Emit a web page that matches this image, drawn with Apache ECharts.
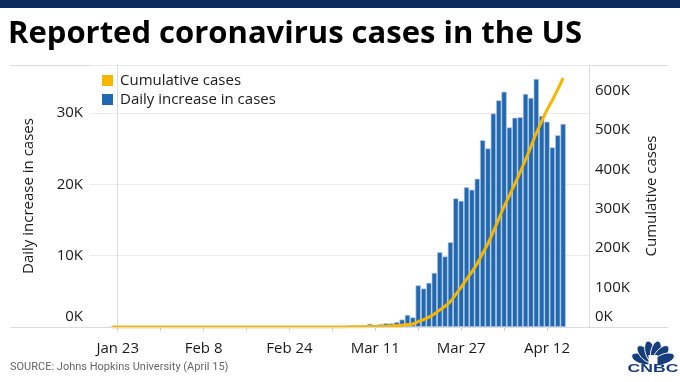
<!DOCTYPE html>
<html><head><meta charset="utf-8">
<script src="https://cdn.jsdelivr.net/npm/echarts@6/dist/echarts.min.js"></script>
<style>html,body{margin:0;padding:0;background:#fff}#c{width:680px;height:382px}</style>
</head><body><div id="c"></div>
<script>
// ---- data ----
const startDate = '2020-01-22';
const dailyCases = [
  1,0,1,0,3,0,0,0,0,2,
  1,0,3,0,1,0,0,0,0,0,1,0,1,0,0,0,0,0,0,0,20,0,0,0,0,0,1,27,6,
  7,25,24,34,63,98,116,106,163,
  450,300,420,520,520,700,1050,1700,1350,5850,5400,6200,7600,10500,9900,11900,18050,17700,19600,19250,20800,26200,
  25050,29950,31800,33000,28000,29350,29450,32700,32150,34800,29600,28800,25200,26900,28500
];
const cumulativeCases = [
  1,1,2,2,5,5,5,5,5,7,
  8,8,11,11,12,12,12,12,12,12,13,13,14,14,14,14,14,14,14,14,34,34,34,34,34,34,35,62,68,
  75,100,124,158,221,319,435,541,704,
  1000,1300,1700,2200,2800,3600,4600,6300,7700,13500,18900,25000,33000,43000,53000,65000,83000,101000,121000,140000,161000,187000,
  212000,242000,274000,306000,334000,363000,393000,425000,458000,492000,522000,551000,576000,603000,632000
];
const xLabelDates = ['2020-01-23','2020-02-08','2020-02-24','2020-03-11','2020-03-27','2020-04-12'];
const xLabelTexts = ['Jan 23','Feb 8','Feb 24','Mar 11','Mar 27','Apr 12'];
const xTickDates = ['2020-01-23','2020-01-31','2020-02-08','2020-02-16','2020-02-24','2020-03-03','2020-03-11','2020-03-19','2020-03-27','2020-04-04','2020-04-12'];
const leftTickLabels = ['0K','10K','20K','30K'];
const rightTickLabels = ['0K','100K','200K','300K','400K','500K','600K'];
const seriesNames = ['Cumulative cases','Daily increase in cases'];

// ---- helpers ----
const DAY = 86400000;
const base = Date.parse('2020-01-23T00:00:00Z');
const dayOf = s => Math.round((Date.parse(s + 'T00:00:00Z') - base) / DAY);
const start = dayOf(startDate);
const dailyPairs = dailyCases.map((v, i) => [start + i, v]);
const cumPairs = cumulativeCases.map((v, i) => [start + i, v]);
const labelDays = xLabelDates.map(dayOf);
const tickDays = xTickDates.map(dayOf);

const FONT = '"Open Sans", Lato, sans-serif';
const TXT = '#1a1a1a';
const YEL = '#f7b600';
const BLU = '#1e69b2';

const chart = echarts.init(document.getElementById('c'), null, {renderer: 'canvas'});

function leftFmt(v) {
  if (v % 10000 !== 0) return '';
  const t = leftTickLabels[v / 10000];
  return v === 0 ? '{z|' + t + '}' : t;
}
function rightFmt(v) {
  if (v % 100000 !== 0) return '';
  const t = rightTickLabels[v / 100000];
  return v === 0 ? '{z|' + t + '}' : t;
}

const navy = '#0b2b5f';
const logoNavy = '#163d7c';
const feathers = [-70, -42, -14, 14, 42, 70].map(a => {
  const r = a * Math.PI / 180;
  const cx = 653 + 12 * Math.sin(r), cy = 363 - 12 * Math.cos(r);
  return {
    type: 'ellipse',
    shape: {cx: cx, cy: cy, rx: 5, ry: 10.5},
    originX: cx, originY: cy,
    rotation: -r,
    style: {fill: logoNavy, stroke: '#fff', lineWidth: 0.9},
    silent: true
  };
});

chart.setOption({
  animation: false,
  textStyle: {fontFamily: FONT},
  title: {
    text: 'Reported coronavirus cases in the US',
    left: 8, top: 19, padding: 0,
    textStyle: {fontSize: 31, fontWeight: 'bold', color: '#000', fontFamily: FONT}
  },
  legend: {
    left: 102, top: 73, orient: 'vertical', padding: 0,
    itemWidth: 11, itemHeight: 11, itemGap: 4,
    textStyle: {fontSize: 15, color: TXT, padding: [0, 0, 0, 2]},
    data: [
      {name: seriesNames[0], icon: 'rect', itemStyle: {color: YEL, borderWidth: 0}},
      {name: seriesNames[1], icon: 'rect', itemStyle: {color: BLU, borderWidth: 0}}
    ]
  },
  grid: {left: 90, right: 91, top: 65, bottom: 55, outerBoundsMode: 'none'},
  xAxis: {
    type: 'value', min: -5.16, max: 87.82,
    axisLine: {show: false},
    axisTick: {show: true, customValues: tickDays, length: 4, lineStyle: {color: '#cfcfcf'}},
    axisLabel: {
      customValues: labelDays, fontSize: 15, color: TXT, margin: 14,
      formatter: v => { const k = labelDays.indexOf(Math.round(v)); return k >= 0 ? xLabelTexts[k] : ''; }
    },
    splitLine: {show: false}
  },
  yAxis: [
    {
      type: 'value', position: 'left', min: 0, max: 36750, interval: 10000,
      name: 'Daily increase in cases', nameLocation: 'middle', nameRotate: 90, nameGap: 54,
      nameTextStyle: {fontSize: 15, color: TXT},
      axisLine: {show: true, lineStyle: {color: '#dcdcdc'}},
      axisTick: {show: false},
      axisLabel: {fontSize: 15, color: TXT, margin: 7, formatter: leftFmt, showMaxLabel: false,
        rich: {z: {fontSize: 15, color: TXT, padding: [0, 0, 20, 0]}}},
      splitLine: {show: true, lineStyle: {color: '#ececec'}}
    },
    {
      type: 'value', position: 'right', min: 0, max: 665000, interval: 100000,
      name: 'Cumulative cases', nameLocation: 'middle', nameRotate: 90, nameGap: 55,
      nameTextStyle: {fontSize: 15, color: TXT},
      axisLine: {show: true, lineStyle: {color: '#dcdcdc'}},
      axisTick: {show: false},
      axisLabel: {fontSize: 15, color: TXT, margin: 6, formatter: rightFmt, showMaxLabel: false,
        rich: {z: {fontSize: 15, color: TXT, padding: [0, 0, 20, 0]}}},
      splitLine: {show: false}
    }
  ],
  series: [
    {
      name: seriesNames[0], type: 'line', yAxisIndex: 1, data: cumPairs,
      smooth: 0.35, showSymbol: false, symbol: 'none',
      lineStyle: {width: 3, color: YEL}, itemStyle: {color: YEL}, z: 4
    },
    {
      name: seriesNames[1], type: 'bar', yAxisIndex: 0, data: dailyPairs,
      barWidth: 5.37,
      itemStyle: {color: BLU, borderColor: '#c4cbe0', borderWidth: 0.7}, z: 2
    }
  ],
  graphic: [
    {type: 'rect', shape: {x: 0, y: 0, width: 680, height: 8}, style: {fill: navy}, silent: true},
    {type: 'line', shape: {x1: 10, y1: 65.5, x2: 668, y2: 65.5}, style: {stroke: '#dcdcdc', lineWidth: 1}, silent: true},
    {type: 'line', shape: {x1: 10, y1: 327.5, x2: 668, y2: 327.5}, style: {stroke: '#dcdcdc', lineWidth: 1}, silent: true, z: 10},
    {type: 'text', x: 10, y: 367, style: {text: 'SOURCE: Johns Hopkins University (April 15)', fontSize: 11,
      fontFamily: '"Liberation Sans Narrow", Roboto, sans-serif', fill: '#666', textVerticalAlign: 'middle'}, silent: true},
    {type: 'group', children: feathers.concat([
      {type: 'rect', shape: {x: 648.5, y: 355, width: 9, height: 9}, style: {fill: '#fff'}, silent: true},
      {type: 'text', x: 653, y: 369, scaleX: 1.6, scaleY: 1, originX: 0, originY: 0,
        style: {text: 'CNBC', fontSize: 11, fontWeight: 'bold', fontFamily: 'Liberation Sans, Arial, sans-serif',
          fill: logoNavy, textAlign: 'center', textVerticalAlign: 'middle'}, silent: true}
    ])}
  ]
});
</script>
</body></html>
